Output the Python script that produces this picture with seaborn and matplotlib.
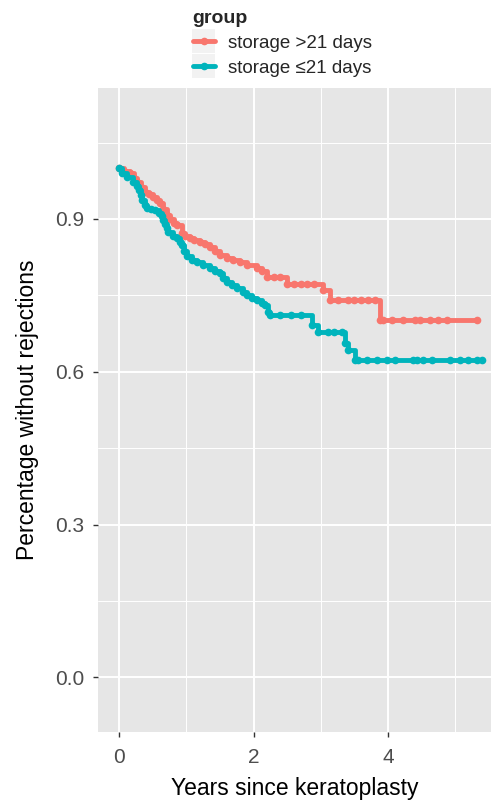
import matplotlib
matplotlib.use("Agg")
import numpy as np
import pandas as pd
import seaborn as sns
import matplotlib.pyplot as plt
from matplotlib.patches import Rectangle
from matplotlib.lines import Line2D
from matplotlib.ticker import FixedLocator

# ---------------- data ----------------
groups = ["storage >21 days", "storage \u226421 days"]
colors = ["#F8766D", "#00B4BC"]

red_time = [0.00, 0.08, 0.16, 0.22, 0.27, 0.33, 0.39, 0.45, 0.51, 0.56,
            0.61, 0.66, 0.71, 0.76, 0.81, 0.86, 0.93, 0.98, 1.05, 1.12,
            1.20, 1.28, 1.35, 1.42, 1.50, 1.60, 1.70, 1.80, 1.90, 2.05,
            2.12, 2.20, 2.30, 2.39, 2.49, 2.60, 2.70, 2.80, 2.90, 3.03,
            3.14, 3.25, 3.40, 3.50, 3.60, 3.70, 3.80, 3.88, 3.92, 4.06,
            4.22, 4.40, 4.47, 4.62, 4.74, 4.87, 5.32]
red_surv = [1.000, 0.995, 0.990, 0.980, 0.972, 0.962, 0.953, 0.948, 0.943, 0.937,
            0.931, 0.920, 0.908, 0.900, 0.893, 0.888, 0.872, 0.866, 0.862, 0.858,
            0.855, 0.850, 0.845, 0.838, 0.829, 0.824, 0.819, 0.815, 0.809, 0.803,
            0.797, 0.786, 0.786, 0.786, 0.773, 0.773, 0.773, 0.773, 0.773, 0.760,
            0.741, 0.741, 0.741, 0.741, 0.741, 0.741, 0.741, 0.701, 0.701, 0.701,
            0.701, 0.701, 0.701, 0.701, 0.701, 0.701, 0.701]

teal_time = [0.00, 0.05, 0.12, 0.21, 0.26, 0.29, 0.32, 0.34, 0.38, 0.41,
             0.47, 0.53, 0.60, 0.64, 0.66, 0.68, 0.71, 0.73, 0.80, 0.86,
             0.90, 0.93, 0.97, 1.01, 1.08, 1.16, 1.25, 1.35, 1.42, 1.50,
             1.55, 1.60, 1.68, 1.75, 1.84, 1.90, 1.97, 2.05, 2.12, 2.17,
             2.21, 2.25, 2.40, 2.55, 2.70, 2.87, 2.96, 3.10, 3.20, 3.31,
             3.36, 3.40, 3.51, 3.55, 3.69, 3.83, 3.98, 4.10, 4.37, 4.43,
             4.52, 4.65, 4.92, 5.07, 5.19, 5.32, 5.40]
teal_surv = [1.000, 0.990, 0.982, 0.972, 0.965, 0.957, 0.947, 0.937, 0.928, 0.921,
             0.919, 0.917, 0.912, 0.905, 0.898, 0.890, 0.882, 0.874, 0.867, 0.862,
             0.855, 0.849, 0.838, 0.828, 0.820, 0.815, 0.810, 0.803, 0.798, 0.794,
             0.785, 0.776, 0.770, 0.764, 0.756, 0.751, 0.745, 0.741, 0.735, 0.731,
             0.717, 0.711, 0.711, 0.711, 0.711, 0.692, 0.678, 0.678, 0.678, 0.678,
             0.656, 0.642, 0.623, 0.623, 0.623, 0.623, 0.623, 0.623, 0.623, 0.623,
             0.623, 0.623, 0.623, 0.623, 0.623, 0.623, 0.623]

x_ticks = [0, 2, 4]
x_tick_labels = ["0", "2", "4"]
y_ticks = [0.0, 0.3, 0.6, 0.9]
y_tick_labels = ["0.0", "0.3", "0.6", "0.9"]

df = pd.concat([
    pd.DataFrame({"time": red_time, "surv": red_surv, "group": groups[0]}),
    pd.DataFrame({"time": teal_time, "surv": teal_surv, "group": groups[1]}),
], ignore_index=True)

# ---------------- style ----------------
sns.set_theme(style="darkgrid")
plt.rcParams["font.family"] = ["Liberation Sans", "DejaVu Sans"]

W, H = 491, 801
fig = plt.figure(figsize=(W / 100, H / 100), dpi=100)
fig.patch.set_facecolor("white")
pl, pr, pt, pb = 98, 491, 88, 732
ax = fig.add_axes([pl / W, 1 - pb / H, (pr - pl) / W, (pb - pt) / H])

sns.lineplot(data=df, x="time", y="surv", hue="group", hue_order=groups,
             palette=colors, drawstyle="steps-post", marker="o",
             markersize=5.5, markeredgewidth=0, linewidth=3.5,
             estimator=None, legend=False, ax=ax)

ax.set_facecolor("#E6E6E6")
ax.set_xlim(-0.313, 5.53)
ax.set_ylim(-0.107, 1.157)
ax.xaxis.set_major_locator(FixedLocator(x_ticks))
ax.set_xticklabels(x_tick_labels)
ax.yaxis.set_major_locator(FixedLocator(y_ticks))
ax.set_yticklabels(y_tick_labels)
ax.xaxis.set_minor_locator(FixedLocator([1, 3, 5]))
ax.yaxis.set_minor_locator(FixedLocator([-0.15, 0.15, 0.45, 0.75, 1.05]))
ax.grid(which="major", color="white", linewidth=1.4)
ax.grid(which="minor", color="white", linewidth=0.7)
ax.set_axisbelow(True)
for s in ax.spines.values():
    s.set_visible(False)
ax.tick_params(which="major", length=3.6, width=1.0, color="#333333",
               labelcolor="#4D4D4D", labelsize=15, pad=6.0,
               bottom=True, left=True)
ax.tick_params(axis="x", which="major", pad=8.0)
ax.tick_params(which="minor", length=0)

ax.set_xlabel("Years since keratoplasty", fontsize=16.5, color="black", labelpad=7)
ax.set_ylabel("Percentage without rejections", fontsize=16.5, color="black", labelpad=12)

# ---------------- legend ----------------
handles = [Line2D([], [], color=c, lw=3.5, marker="o", ms=5.5, mew=0) for c in colors]
leg = fig.legend(handles, groups, title="group", loc="upper left",
                 bbox_to_anchor=(187 / W, 1 - 4 / H), frameon=False,
                 fontsize=13.5, title_fontproperties={"weight": "bold", "size": 14},
                 alignment="left", handlelength=1.2, handletextpad=0.7,
                 labelspacing=0.42, borderpad=0.3, borderaxespad=0)
leg.set_zorder(5)

fig.canvas.draw()
renderer = fig.canvas.get_renderer()
for h in leg.legend_handles:
    bb = h.get_window_extent(renderer)
    cx, cy = (bb.x0 + bb.x1) / 2, (bb.y0 + bb.y1) / 2
    kw, kh = 23, 24
    fig.patches.append(Rectangle(((cx - kw / 2) / W, (cy - kh / 2) / H), kw / W, kh / H,
                                 transform=fig.transFigure, facecolor="#F2F2F2",
                                 edgecolor="none", zorder=1, figure=fig))

fig.savefig("out.png", dpi=100)
